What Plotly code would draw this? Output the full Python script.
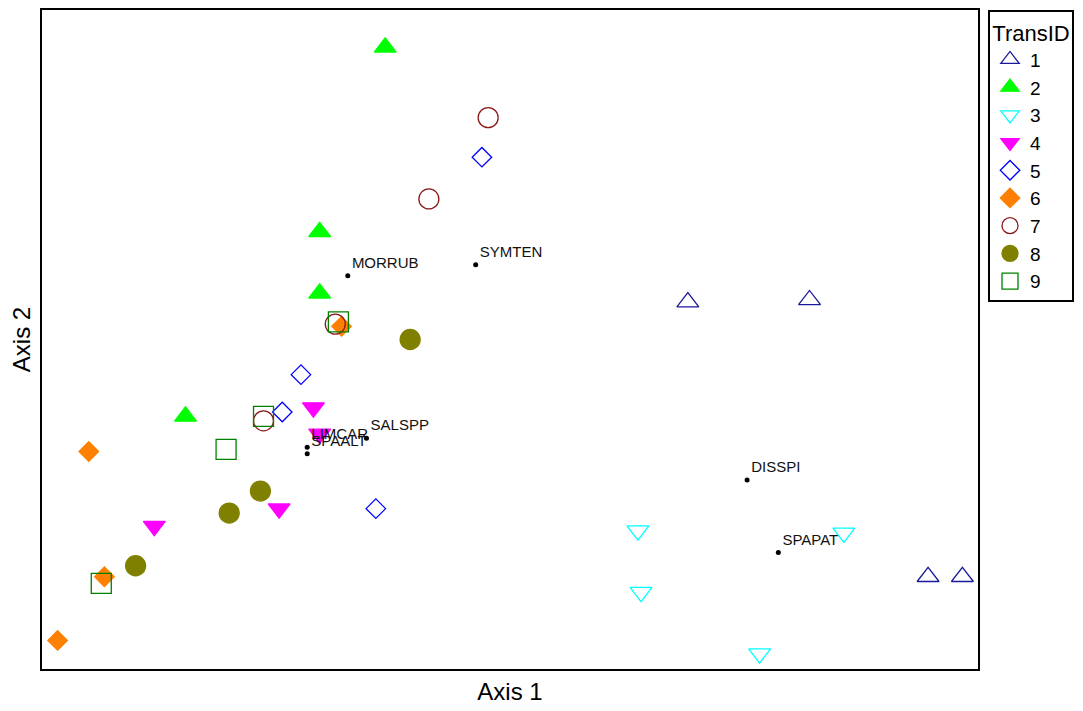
import plotly.graph_objects as go

# Sample unit scores on the two ordination axes, grouped by transect
trans_ids = ["1", "2", "3", "4", "5", "6", "7", "8", "9"]
ax1_scores = [
    [0.57, 0.96, 1.34, 1.45],
    [-0.40, -0.61, -0.61, -1.04],
    [0.41, 1.07, 0.42, 0.80],
    [-0.63, -0.61, -0.74, -1.14],
    [-0.09, -0.67, -0.73, -0.43],
    [-0.54, -1.35, -1.30, -1.45],
    [-0.07, -0.26, -0.56, -0.79],
    [-0.32, -0.80, -0.90, -1.20],
    [-0.55, -0.79, -0.91, -1.31],
]
ax2_scores = [
    [0.17, 0.18, -1.08, -1.08],
    [1.33, 0.49, 0.21, -0.35],
    [-0.87, -0.88, -1.15, -1.43],
    [-0.31, -0.43, -0.77, -0.85],
    [0.83, -0.16, -0.33, -0.77],
    [0.06, -0.51, -1.08, -1.37],
    [1.01, 0.64, 0.07, -0.37],
    [0.00, -0.69, -0.79, -1.03],
    [0.08, -0.35, -0.50, -1.11],
]

# Species scores
species = ["MORRUB", "SYMTEN", "LIMCAR", "SPAALT", "SALSPP", "DISSPI", "SPAPAT"]
species_ax1 = [-0.52, -0.11, -0.65, -0.65, -0.46, 0.76, 0.86]
species_ax2 = [0.29, 0.34, -0.49, -0.52, -0.45, -0.64, -0.97]

# Marker style per transect: symbol, colour, size
symbols = ["triangle-up-open", "triangle-up", "triangle-down-open", "triangle-down",
           "diamond-open", "diamond", "circle-open", "circle", "square-open"]
colors = ["#1a1a9c", "#00ff00", "#00ffff", "#ff00ff", "#0000ff",
          "#ff8000", "#8b1a1a", "#808000", "#008000"]
sizes = [19, 19, 19, 19, 15, 15, 20, 20, 20]

FONT = "Arial, 'Liberation Sans', sans-serif"

fig = go.Figure()

for tid, xs, ys, sym, col, sz in zip(trans_ids, ax1_scores, ax2_scores, symbols, colors, sizes):
    fig.add_trace(go.Scatter(
        x=xs, y=ys, mode="markers", name=tid,
        marker=dict(symbol=sym, color=col, size=sz,
                    line=dict(width=1.3, color=col)),
    ))

fig.add_trace(go.Scatter(
    x=species_ax1, y=species_ax2, mode="markers+text",
    text=species, textposition="top right",
    textfont=dict(family=FONT, size=15, color="#111111"),
    marker=dict(symbol="circle", color="black", size=5),
    showlegend=False, hoverinfo="text",
))

axis_common = dict(
    showgrid=False, zeroline=False, showticklabels=False, ticks="",
    showline=True, mirror=True, linecolor="black", linewidth=2,
)

fig.update_layout(
    width=1083, height=711,
    margin=dict(l=42, r=105, t=8, b=42),
    paper_bgcolor="white", plot_bgcolor="white",
    font=dict(family=FONT, color="black"),
    xaxis=dict(range=[-1.5, 1.5], title=dict(text="Axis 1", font=dict(size=24), standoff=13),
               **axis_common),
    yaxis=dict(range=[-1.5, 1.5], title=dict(text="Axis 2", font=dict(size=24), standoff=3),
               **axis_common),
    legend=dict(
        x=1.0107, y=1, xanchor="left", yanchor="top",
        bordercolor="black", borderwidth=2, bgcolor="white",
        font=dict(size=19, family=FONT),
        title=dict(text="TransID", font=dict(size=22), side="top center"),
        itemsizing="trace",
    ),
)

fig.write_html("out.html")
